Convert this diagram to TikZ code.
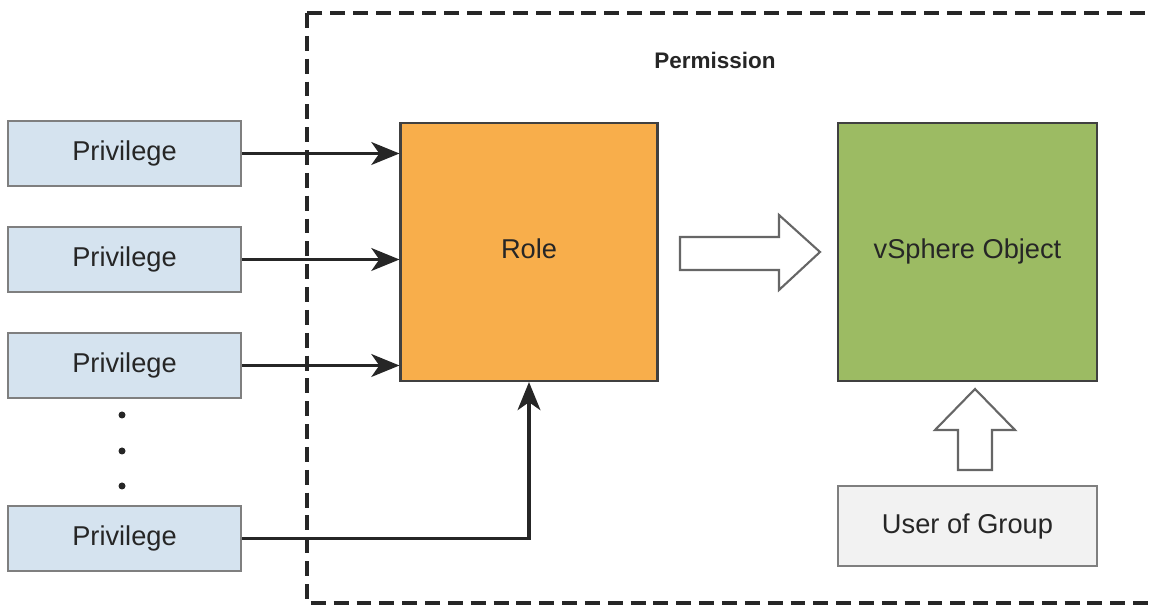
\documentclass[tikz,border=0pt]{standalone}
\usepackage{fontspec}
\setmainfont{Liberation Sans}
\usetikzlibrary{arrows.meta}
\definecolor{privfill}{HTML}{D5E3EF}
\definecolor{rolefill}{HTML}{F8AE4B}
\definecolor{objfill}{HTML}{9CBB63}
\definecolor{userfill}{HTML}{F2F2F2}
\definecolor{edgegray}{HTML}{7F7F7F}
\begin{document}
\begin{tikzpicture}[x=0.02cm, y=-0.02cm, line join=miter, font=\fontsize{15.5}{18}\selectfont,
	>={Stealth[length=16pt,width=13pt,inset=4.5pt]}]
	\tikzset{privbox/.style={draw=edgegray, line width=1.2pt, fill=privfill, text=black!85, minimum width=4.66cm, minimum height=1.3cm},
		bigbox/.style={draw=black!75, line width=1.2pt, text=black!85, minimum width=5.14cm, minimum height=5.16cm},
		link/.style={->, draw=black!85, line width=1.8pt},
		blockarrow/.style={draw=black!60, line width=1.2pt, fill=white}}
	\useasboundingbox (0,0) rectangle (1150,607);
	% permission frame
	\draw[black!85, line width=1.8pt, dash pattern=on 8.5pt off 4.5pt] (307,13) rectangle (1175,603);
	\node[font=\fontsize{12.8}{15}\selectfont\bfseries, text=black!85] (perm) at (715,60) {Permission};
	% privileges
	\node[privbox] (p1) at (124.5,153.5) {Privilege};
	\node[privbox] (p2) at (124.5,259.5) {Privilege};
	\node[privbox] (p3) at (124.5,365.5) {Privilege};
	\node[privbox] (p4) at (124.5,538.5) {Privilege};
	\fill[black!85] (122,415) circle (3.5) (122,451) circle (3.5) (122,486) circle (3.5);
	% role and object
	\node[bigbox, fill=rolefill] (role) at (529,252) {\raisebox{4pt}{Role}};
	\node[bigbox, fill=objfill, minimum width=5.18cm] (obj) at (967.5,252) {\raisebox{4pt}{vSphere Object}};
	\node[draw=edgegray, line width=1.2pt, fill=userfill, text=black!85, minimum width=5.18cm, minimum height=1.6cm] (user) at (967.5,526) {User of Group};
	% connectors
	\draw[link] (p1.east) -- (p1.east -| role.west);
	\draw[link] (p2.east) -- (p2.east -| role.west);
	\draw[link] (p3.east) -- (p3.east -| role.west);
	\draw[link] (p4.east) -| (role.south);
	% block arrows
	\draw[blockarrow] (680,237) -- (779,237) -- (779,215) -- (820,252) -- (779,290) -- (779,270) -- (680,270) -- cycle;
	\draw[blockarrow] (958,470) -- (958,430) -- (935,430) -- (975,389) -- (1015,430) -- (992,430) -- (992,470) -- cycle;
\end{tikzpicture}
\end{document}
